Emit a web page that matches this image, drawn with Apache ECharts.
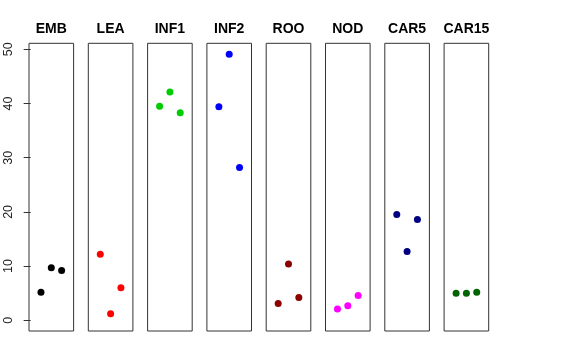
<!DOCTYPE html>
<html>
<head>
<meta charset="utf-8">
<script src="https://cdn.jsdelivr.net/npm/echarts@6/dist/echarts.min.js"></script>
<style>html,body{margin:0;padding:0;background:#fff;}#c{width:576px;height:360px;}</style>
</head>
<body>
<div id="c"></div>
<script>
const categories = ["EMB", "LEA", "INF1", "INF2", "ROO", "NOD", "CAR5", "CAR15"];
const colors = ["#000000", "#FF0000", "#00CD00", "#0000FF", "#8B0000", "#FF00FF", "#000080", "#006400"];
const EMB = [5.2, 9.7, 9.2];
const LEA = [12.2, 1.2, 6.0];
const INF1 = [39.5, 42.1, 38.3];
const INF2 = [39.4, 49.1, 28.2];
const ROO = [3.1, 10.4, 4.2];
const NOD = [2.1, 2.7, 4.6];
const CAR5 = [19.5, 12.7, 18.6];
const CAR15 = [5.0, 5.0, 5.2];
const yTicks = [0, 10, 20, 30, 40, 50];
const values = [EMB, LEA, INF1, INF2, ROO, NOD, CAR5, CAR15];

const yMin = -1.97, yMax = 51.1;
const grids = [], xAxes = [], yAxes = [], series = [], graphics = [];
categories.forEach((cat, i) => {
  const left = 29 + i * 59.3;
  const w = 44.6;
  grids.push({left: left, top: 43.3, width: w, height: 287.7, show: true,
    borderColor: '#333', borderWidth: 1, backgroundColor: 'transparent'});
  xAxes.push({type: 'value', gridIndex: i, min: -0.16, max: 4.16, show: false});
  const first = i === 0;
  yAxes.push({type: 'value', gridIndex: i, min: yMin, max: yMax, show: first,
    splitLine: {show: false},
    axisLine: {show: false},
    axisTick: {show: first, length: 7, inside: false, customValues: yTicks,
      lineStyle: {color: '#333', width: 1}},
    axisLabel: {show: first, customValues: yTicks, rotate: 90, margin: 14,
      fontFamily: 'Liberation Sans, Arial, sans-serif', fontSize: 12.5, color: '#222'}
  });
  series.push({type: 'scatter', xAxisIndex: i, yAxisIndex: i, symbol: 'circle', symbolSize: 7,
    itemStyle: {color: colors[i], opacity: 1}, silent: true,
    data: values[i].map((v, j) => [j + 1, v])});
  graphics.push({type: 'text', x: left + w / 2, y: 29.5,
    style: {text: cat, textAlign: 'center', textVerticalAlign: 'middle',
      font: 'bold 14px "Liberation Sans", Arial, sans-serif', fill: '#000'}});
});

const chart = echarts.init(document.getElementById('c'), null, {renderer: 'canvas'});
chart.setOption({
  animation: false,
  backgroundColor: '#fff',
  graphic: graphics,
  grid: grids,
  xAxis: xAxes,
  yAxis: yAxes,
  series: series
});
</script>
</body>
</html>
